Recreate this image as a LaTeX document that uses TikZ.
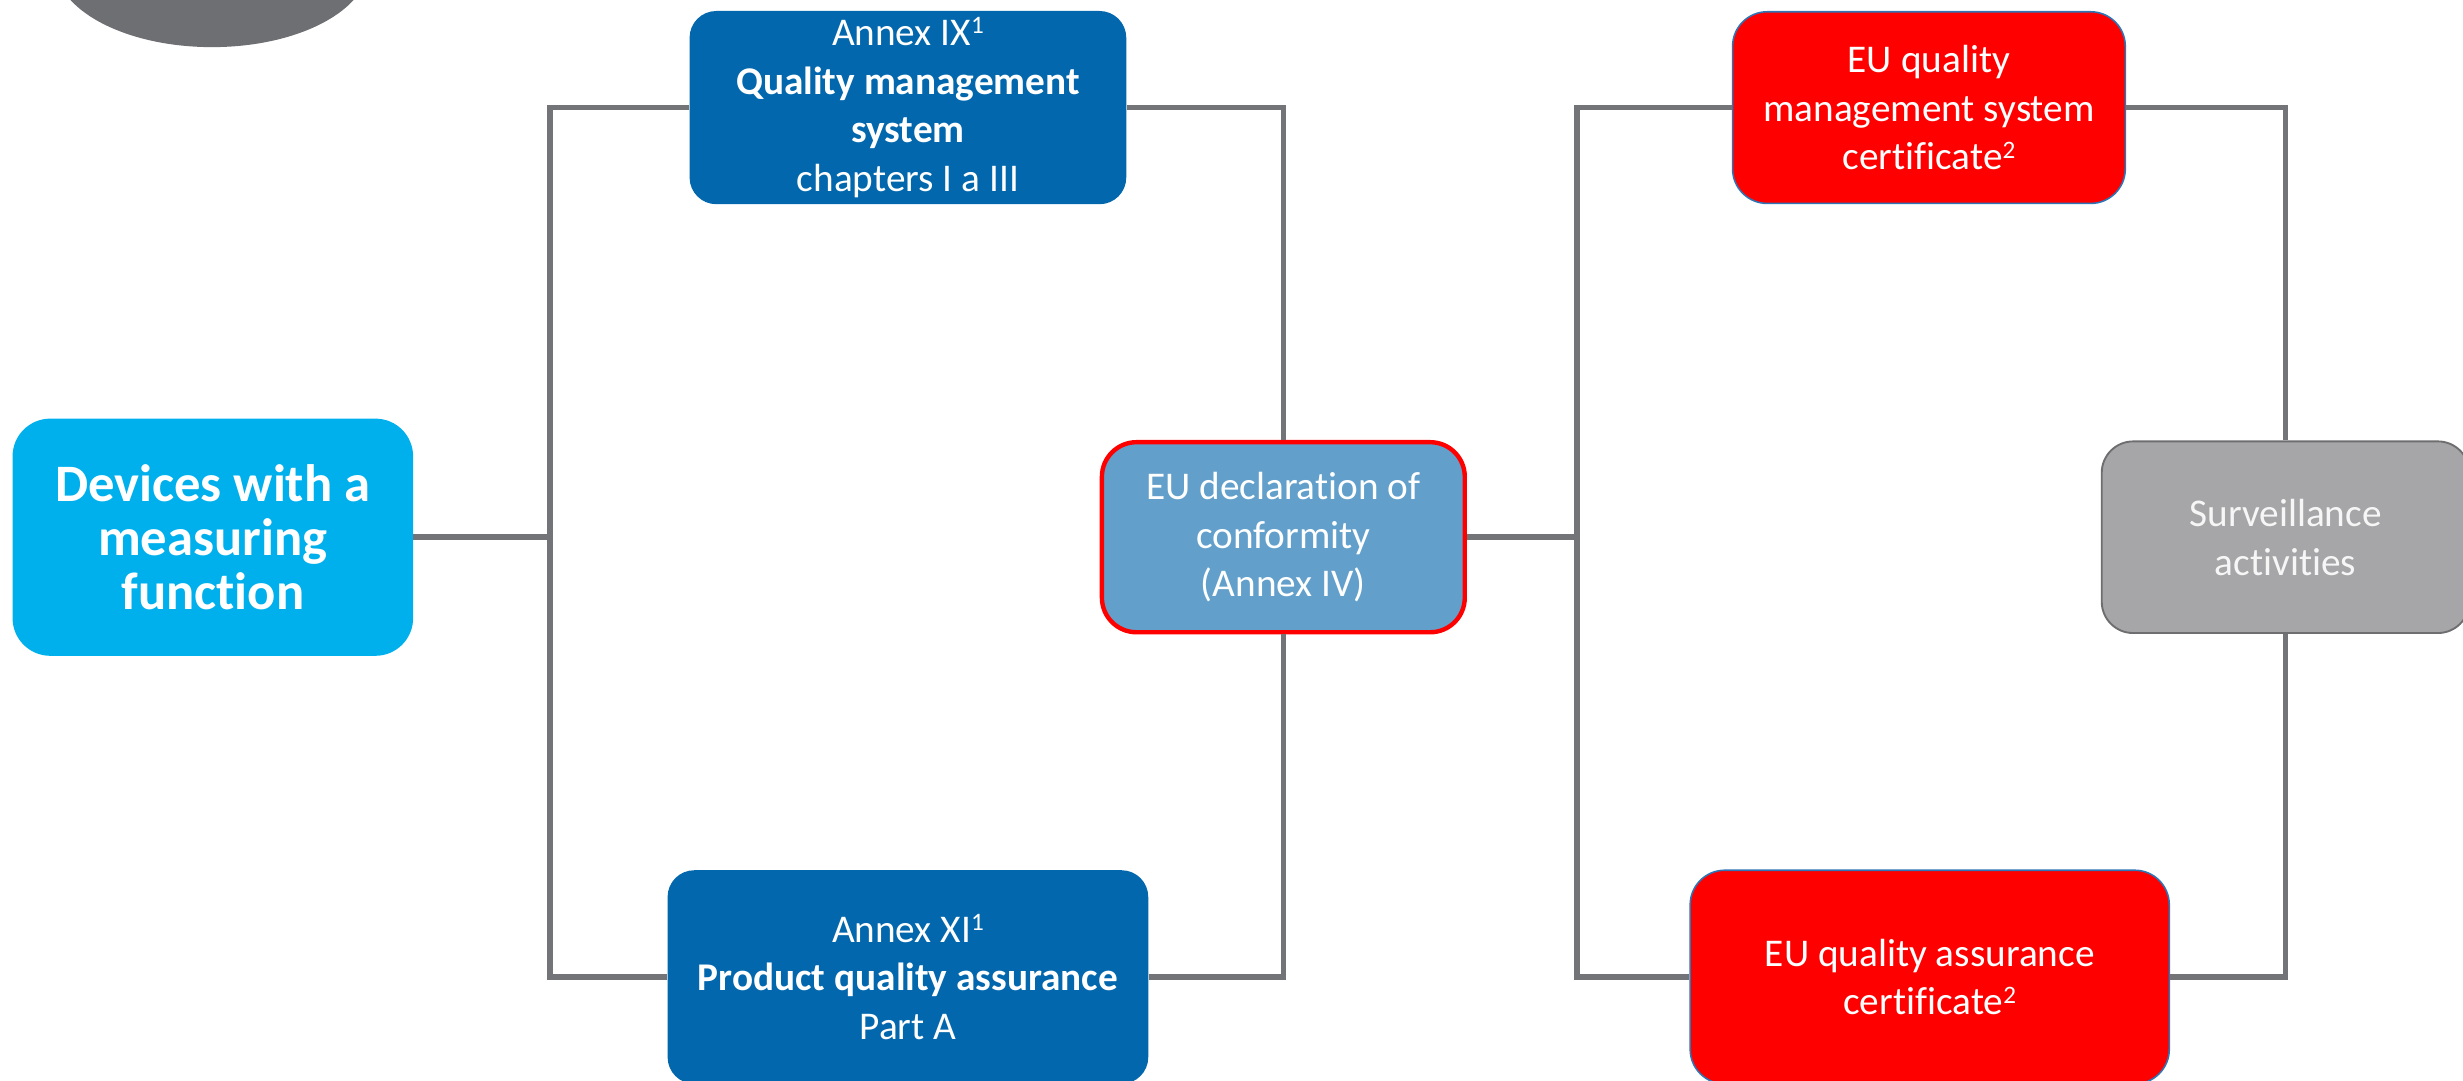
\documentclass[tikz,border=0pt]{standalone}
\usepackage{fontspec}
\setmainfont{Carlito}[Ligatures=NoCommon]
\newcommand\supnum[1]{\raisebox{7.5pt}{\fontsize{16}{16}\selectfont #1}}
\definecolor{devcyan}{HTML}{00B0EC}
\definecolor{annexblue}{HTML}{0267AC}
\definecolor{declfill}{HTML}{62A0CB}
\definecolor{certred}{HTML}{FF0000}
\definecolor{certedge}{HTML}{2E75B6}
\definecolor{survfill}{HTML}{A6A6A8}
\definecolor{survedge}{HTML}{6E6E70}
\definecolor{linegray}{HTML}{737478}
\definecolor{ellgray}{HTML}{6E6F73}
\definecolor{survtext}{HTML}{F6F6F6}
\begin{document}
\begin{tikzpicture}[x=1pt,y=-1pt,
  box/.style={rounded corners=17pt, inner sep=0pt, align=center, text=white,
    font=\fontsize{25}{31}\selectfont},
  annexbox/.style={box, fill=annexblue},
  devbox/.style={box, fill=devcyan, rounded corners=24pt,
    font=\fontsize{33.5}{34.5}\selectfont\bfseries},
  declbox/.style={box, fill=declfill, draw=certred, line width=2.8pt, rounded corners=22pt},
  certbox/.style={box, fill=certred, draw=certedge, line width=1pt, rounded corners=22pt},
  survbox/.style={box, fill=survfill, draw=survedge, line width=1.2pt, rounded corners=20pt, text=survtext},
  conn/.style={draw=linegray, line width=3.5pt, line join=miter}
]
\useasboundingbox (0,0) rectangle (1568,688);
\clip (0,0) rectangle (1568,688);

% decorative shape at top left
\fill[ellgray] (135,-23) ellipse [x radius=100, y radius=53];

% nodes
\node[devbox, minimum width=255pt, minimum height=151pt] (dev) at (135.5,342)
  {Devices with a\\measuring\\function};
\node[annexbox, minimum width=278pt, minimum height=123pt] (ix) at (578,68.5)
  {Annex IX\supnum{1}\\\textbf{Quality management}\\\textbf{system}\\chapters I a III};
\node[annexbox, minimum width=306pt, minimum height=136pt] (xi) at (578,622)
  {Annex XI\supnum{1}\\\textbf{Product quality assurance}\\Part A};
\node[declbox, minimum width=231pt, minimum height=121pt] (decl) at (817,342)
  {EU declaration of\\conformity\\(Annex IV)};
\node[certbox, minimum width=250pt, minimum height=122pt] (qms) at (1228,68.5)
  {EU quality\\management system\\certificate\supnum{2}};
\node[certbox, minimum width=305pt, minimum height=136pt] (qa) at (1228.5,622)
  {EU quality assurance\\certificate\supnum{2}};
\node[survbox, minimum width=234pt, minimum height=122pt] (surv) at (1455,342)
  {Surveillance\\activities};

\coordinate (jL) at (350,342);
\coordinate (jR) at (1004,342);

% connectors
\path[conn] (dev.east) -- (jL);
\path[conn] (ix.west) -| (jL) |- (xi.west);
\path[conn] (ix.east) -| (decl.north);
\path[conn] (xi.east) -| (decl.south);
\path[conn] (decl.east) -- (jR);
\path[conn] (qms.west) -| (jR) |- (qa.west);
\path[conn] (qms.east) -| (surv.north);
\path[conn] (qa.east) -| (surv.south);
\end{tikzpicture}
\end{document}
